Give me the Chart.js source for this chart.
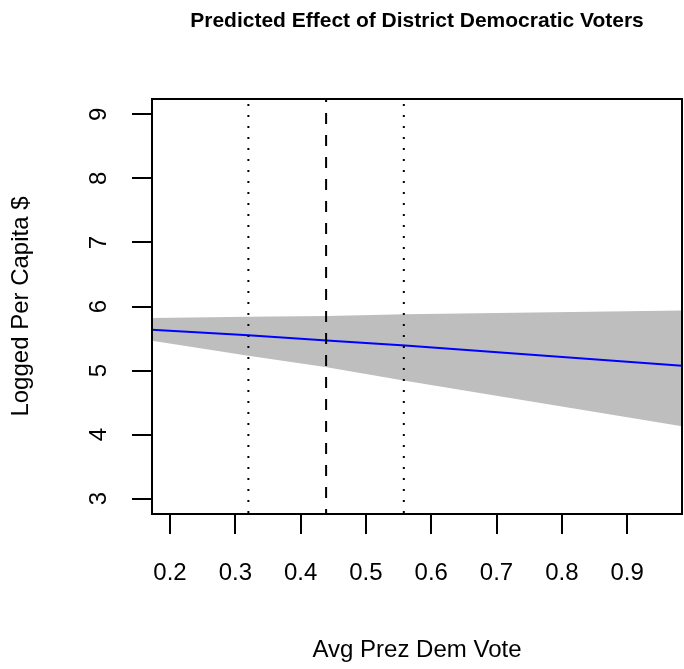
<!DOCTYPE html>
<html lang="en">
<head>
    <meta charset="UTF-8">
    <title>Predicted Effect of District Democratic Voters</title>
    <script src="https://cdn.jsdelivr.net/npm/chart.js"></script>
    <style>
        html, body { margin: 0; padding: 0; background: #fff; }
        #wrap { width: 684px; height: 669px; }
    </style>
</head>
<body>
    <div id="wrap"><canvas id="myChart" width="684" height="669"></canvas></div>

    <script>
        // data
        const voteShare = [0.17, 0.32, 0.44, 0.56, 0.99];
        const predicted = [5.64, 5.55, 5.47, 5.39, 5.07];
        const upperBound = [5.82, 5.84, 5.85, 5.88, 5.94];
        const lowerBound = [5.47, 5.23, 5.05, 4.84, 4.12];
        const meanVote = 0.439;
        const sdVote = [0.32, 0.558];
        const xTicks = [0.2, 0.3, 0.4, 0.5, 0.6, 0.7, 0.8, 0.9];
        const yTicks = [3, 4, 5, 6, 7, 8, 9];
        const xRange = [0.1724, 0.984];
        const yRange = [2.76, 9.24];

        const font = 'Liberation Sans, Arial, Helvetica, sans-serif';
        const pts = ys => voteShare.map((x, i) => ({ x: x, y: ys[i] }));
        // vertical reference lines run top to bottom, like abline
        const vline = x => [{ x: x, y: yRange[1] }, { x: x, y: yRange[0] }];

        const ctx = document.getElementById('myChart').getContext('2d');
        const chart = new Chart(ctx, {
            type: 'line',
            data: {
                datasets: [
                    {
                        data: vline(sdVote[0]),
                        borderColor: '#000', borderWidth: 2, borderDash: [2, 9], borderDashOffset: 6,
                        pointRadius: 0, fill: false, order: 0
                    },
                    {
                        data: vline(meanVote),
                        borderColor: '#000', borderWidth: 2, borderDash: [11, 11], borderDashOffset: 8,
                        pointRadius: 0, fill: false, order: 0
                    },
                    {
                        data: vline(sdVote[1]),
                        borderColor: '#000', borderWidth: 2, borderDash: [2, 9], borderDashOffset: 6,
                        pointRadius: 0, fill: false, order: 0
                    },
                    {
                        data: pts(predicted),
                        borderColor: '#0000ff', borderWidth: 2,
                        pointRadius: 0, fill: false, order: 1
                    },
                    {
                        data: pts(upperBound),
                        borderWidth: 0, borderColor: 'rgba(0,0,0,0)',
                        backgroundColor: '#bebebe',
                        pointRadius: 0, fill: 5, order: 2
                    },
                    {
                        data: pts(lowerBound),
                        borderWidth: 0, borderColor: 'rgba(0,0,0,0)',
                        pointRadius: 0, fill: false, order: 2
                    }
                ]
            },
            options: {
                responsive: false,
                animation: false,
                layout: { padding: 0 },
                plugins: {
                    legend: { display: false },
                    tooltip: { enabled: false }
                },
                elements: { line: { tension: 0 } },
                scales: {
                    x: {
                        type: 'linear',
                        position: 'bottom',
                        min: xRange[0],
                        max: xRange[1],
                        afterBuildTicks: s => { s.ticks = xTicks.map(v => ({ value: v })); },
                        afterFit: s => { s.height = 155; },
                        grid: { display: true, drawOnChartArea: false, drawTicks: true, tickLength: 20, color: '#000', lineWidth: 2 },
                        border: { display: true, color: '#000', width: 2, z: 1 },
                        ticks: {
                            color: '#000', padding: 25, maxRotation: 0, autoSkip: false,
                            font: { family: font, size: 24 },
                            callback: v => v.toFixed(1)
                        },
                        title: {
                            display: true, text: 'Avg Prez Dem Vote', color: '#000',
                            font: { family: font, size: 24 },
                            padding: { top: 0, bottom: 4 }
                        }
                    },
                    y: {
                        type: 'linear',
                        position: 'left',
                        min: yRange[0],
                        max: yRange[1],
                        afterBuildTicks: s => { s.ticks = yTicks.map(v => ({ value: v })); },
                        afterFit: s => { s.width = 152; },
                        grid: { display: true, drawOnChartArea: false, drawTicks: true, tickLength: 20, color: '#000', lineWidth: 2 },
                        border: { display: true, color: '#000', width: 2, z: 1 },
                        ticks: {
                            color: '#000', padding: 26, minRotation: 90, maxRotation: 90,
                            crossAlign: 'center', autoSkip: false,
                            font: { family: font, size: 24 },
                            callback: v => String(v)
                        },
                        title: {
                            display: true, text: 'Logged Per Capita $', color: '#000',
                            font: { family: font, size: 24 },
                            padding: { top: 7, bottom: 0 }
                        }
                    },
                    x2: {
                        type: 'linear',
                        position: 'top',
                        afterFit: s => { s.height = 99; },
                        grid: { display: false },
                        border: { display: true, color: '#000', width: 2, z: 1 },
                        ticks: { display: false },
                        title: {
                            display: true, text: 'Predicted Effect of District Democratic Voters', color: '#000',
                            font: { family: font, size: 21, weight: 'bold' },
                            padding: { top: 9, bottom: 0 }
                        }
                    },
                    y2: {
                        type: 'linear',
                        position: 'right',
                        afterFit: s => { s.width = 2; },
                        grid: { display: false },
                        border: { display: true, color: '#000', width: 2, z: 1 },
                        ticks: { display: false }
                    }
                }
            }
        });
    </script>
</body>
</html>
